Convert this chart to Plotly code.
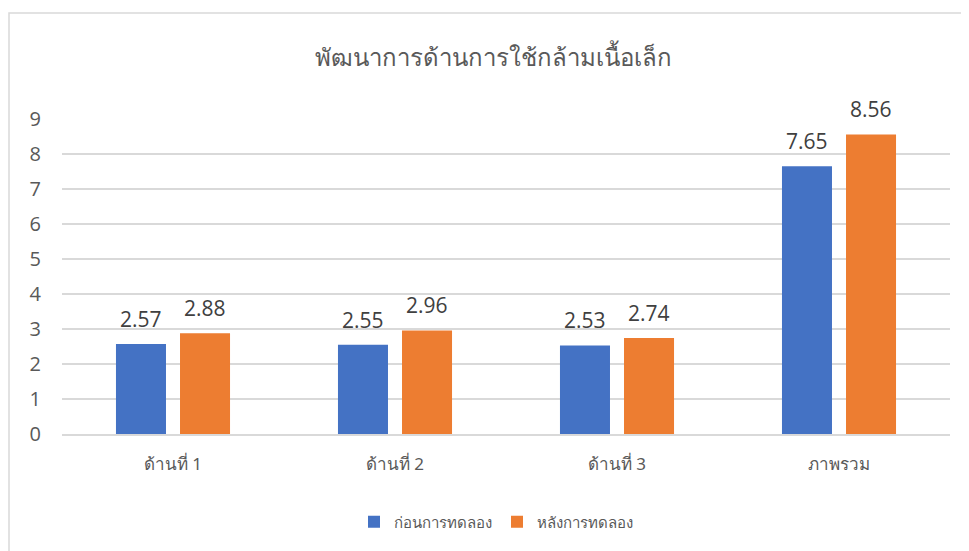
import plotly.graph_objects as go

categories = ["ด้านที่ 1", "ด้านที่ 2", "ด้านที่ 3", "ภาพรวม"]
before_vals = [2.57, 2.55, 2.53, 7.65]
after_vals = [2.88, 2.96, 2.74, 8.56]
series_names = ["ก่อนการทดลอง", "หลังการทดลอง"]
y_ticks = [0, 1, 2, 3, 4, 5, 6, 7, 8, 9]
title_text = "พัฒนาการด้านการใช้กล้ามเนื้อเล็ก"

OFF = 8  # page body margin
W, H = 969 - OFF, 551 - OFF
# target pixel positions (in the screenshot)
PL, PR, PT, PB = 62, 950, 119, 434
L, R, T, B = PL - OFF, (969 - PR), PT - OFF, (551 - PB)
pw = W - L - R
ph = H - T - B

def px_x(X):
    return (X - OFF - L) / pw

def px_y(Y):
    return 1 - (Y - OFF - T) / ph

fig = go.Figure()
series = [(series_names[0], before_vals, "#4472C4", -32),
          (series_names[1], after_vals, "#ED7D31", 32)]
for name, vals, color, shift in series:
    fig.add_trace(go.Bar(
        x=categories, y=vals, name=name,
        marker=dict(color=color, line=dict(width=0)),
    ))
    for c, v in zip(categories, vals):
        fig.add_annotation(
            x=c, y=v, xref="x", yref="y", text=f"{v:.2f}", showarrow=False,
            xshift=shift, yshift=25, yanchor="middle", xanchor="center",
            font=dict(size=21, color="#404040",
                      family="Open Sans, Noto Sans, sans-serif"),
        )

fig.update_layout(
    width=W, height=H,
    margin=dict(l=L, r=R, t=T, b=B, autoexpand=False),
    paper_bgcolor="white", plot_bgcolor="white",
    barmode="group", bargap=0.423, bargroupgap=0.219,
    title=dict(text=title_text, x=(493 - OFF) / W, xanchor="center",
               y=1 - (58 - OFF) / H, yanchor="middle",
               font=dict(size=24, color="#595959")),
    showlegend=True,
    legend=dict(orientation="h", x=px_x(496), xanchor="center",
                y=px_y(522), yanchor="middle",
                font=dict(size=15, color="#595959"),
                itemwidth=30, traceorder="normal"),
    xaxis=dict(showgrid=False, showline=True, linecolor="#d9d9d9", linewidth=1.5,
               ticks="outside", ticklen=14, tickcolor="rgba(0,0,0,0)",
               tickfont=dict(size=17, color="#595959")),
    yaxis=dict(range=[0, 9], tickvals=y_ticks, showgrid=True,
               gridcolor="#d9d9d9", gridwidth=1.5, zeroline=False,
               showline=False, ticks="outside", ticklen=16,
               tickcolor="rgba(0,0,0,0)",
               tickfont=dict(size=20, color="#595959",
                             family="Open Sans, Noto Sans, sans-serif")),
    font=dict(family="Noto Sans, sans-serif"),
)

fig.add_shape(type="rect", xref="paper", yref="paper",
              x0=px_x(9), x1=px_x(1000),
              y0=px_y(600), y1=px_y(13),
              line=dict(color="#d9d9d9", width=1.5), fillcolor="rgba(0,0,0,0)",
              layer="below")

fig.write_html("out.html")
